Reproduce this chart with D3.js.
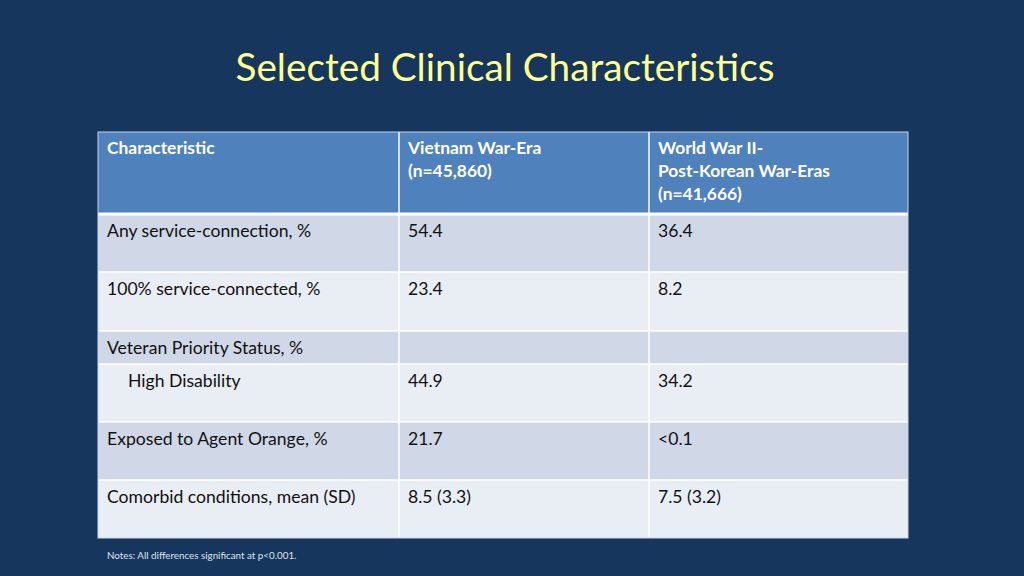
<!DOCTYPE html>
<html><head><meta charset="utf-8">
<script src="https://cdn.jsdelivr.net/npm/d3@7"></script>
<style>html,body{margin:0;padding:0;background:#17365d;}svg{display:block;}</style>
</head><body>
<svg id="chart" width="1024" height="576"></svg>
<script>
// ---- data ----
const title = "Selected Clinical Characteristics";
const columnHeaders = [
  ["Characteristic"],
  ["Vietnam War-Era", "(n=45,860)"],
  ["World War II-", "Post-Korean War-Eras", "(n=41,666)"]
];
const characteristics = [
  "Any service-connection, %",
  "100% service-connected, %",
  "Veteran Priority Status, %",
  "High Disability",
  "Exposed to Agent Orange, %",
  "Comorbid conditions, mean (SD)"
];
const vietnamValues = ["54.4", "23.4", "", "44.9", "21.7", "8.5 (3.3)"];
const ww2Values = ["36.4", "8.2", "", "34.2", "<0.1", "7.5 (3.2)"];
const indented = [false, false, false, true, false, false];
const note = "Notes: All differences significant at p<0.001.";

// ---- layout ----
const W = 1024, H = 576;
const tableLeft = 98, tableRight = 908;
const colEdges = [98, 399, 649, 908];
const headerTop = 132, headerBottom = 214;
const rowBounds = [214, 272, 331, 364, 422, 480, 538];
const font = "Lato, 'Open Sans', sans-serif";
const svg = d3.select("#chart");

svg.append("rect").attr("width", W).attr("height", H).attr("fill", "#17365d");

const t = svg.append("text").attr("x", 505).attr("y", 81)
  .attr("text-anchor", "middle").attr("fill", "#ffff8f")
  .attr("font-family", font).attr("font-size", 38).text(title);
const tw = t.node().getComputedTextLength();
t.attr("font-size", 38 * 539 / tw);

const x = d3.scaleOrdinal().domain([0,1,2]).range(colEdges.slice(0,3));
const rowIdx = d3.range(characteristics.length);
const yTop = d3.scaleOrdinal().domain(rowIdx).range(rowBounds.slice(0,-1));
const yBot = d3.scaleOrdinal().domain(rowIdx).range(rowBounds.slice(1));

// header
const hdr = svg.append("g");
hdr.selectAll("rect").data(columnHeaders).join("rect")
  .attr("x", (d,i)=>x(i)).attr("y", headerTop)
  .attr("width", (d,i)=>colEdges[i+1]-colEdges[i]).attr("height", headerBottom-headerTop)
  .attr("fill", "#4f81bd");

// body rows
const rows = svg.append("g").selectAll("g").data(rowIdx).join("g");
rows.selectAll("rect").data(r => [0,1,2].map(c => ({r, c}))).join("rect")
  .attr("x", d => x(d.c)).attr("y", d => yTop(d.r))
  .attr("width", d => colEdges[d.c+1]-colEdges[d.c])
  .attr("height", d => yBot(d.r)-yTop(d.r))
  .attr("fill", d => d.r % 2 === 0 ? "#d0d8e8" : "#e9edf4");

// grid lines
const grid = svg.append("g").attr("stroke", "#ffffff");
grid.selectAll("line.v").data(colEdges.slice(1,-1)).join("line")
  .attr("x1", d=>d).attr("x2", d=>d).attr("y1", headerTop).attr("y2", rowBounds[rowBounds.length-1])
  .attr("stroke-width", 1.5);
grid.selectAll("line.h").data(rowBounds.slice(1,-1)).join("line")
  .attr("x1", tableLeft).attr("x2", tableRight).attr("y1", d=>d).attr("y2", d=>d)
  .attr("stroke-width", 1.5);
grid.append("line").attr("x1", tableLeft).attr("x2", tableRight)
  .attr("y1", headerBottom).attr("y2", headerBottom).attr("stroke-width", 3);
grid.append("rect").attr("x", tableLeft).attr("y", headerTop)
  .attr("width", tableRight-tableLeft).attr("height", rowBounds[rowBounds.length-1]-headerTop)
  .attr("fill", "none").attr("stroke-width", 1).attr("stroke", "#c8d4e8");

// header text
const hfs = 17.4, fs = 17.6;
const hText = svg.append("g").attr("font-family", font).attr("font-weight", "bold")
  .attr("font-size", hfs).attr("fill", "#ffffff");
columnHeaders.forEach((lines, c) => {
  hText.append("text").selectAll("tspan").data(lines).join("tspan")
    .attr("x", x(c) + 9).attr("y", (d,i) => headerTop + 22 + i*23).text(d => d);
});

// body text
const bText = svg.append("g").attr("font-family", font).attr("font-size", fs).attr("fill", "#111111");
const cols = [characteristics, vietnamValues, ww2Values];
cols.forEach((vals, c) => {
  bText.selectAll(null).data(vals).join("text")
    .attr("x", (d,i) => x(c) + 9 + (c===0 && indented[i] ? 21 : 0))
    .attr("y", (d,i) => yTop(i) + 23)
    .text(d => d);
});

svg.append("text").attr("x", 107).attr("y", 559).attr("font-family", font)
  .attr("font-size", 9.8).attr("fill", "#dde4ee").text(note);
</script>
</body></html>
